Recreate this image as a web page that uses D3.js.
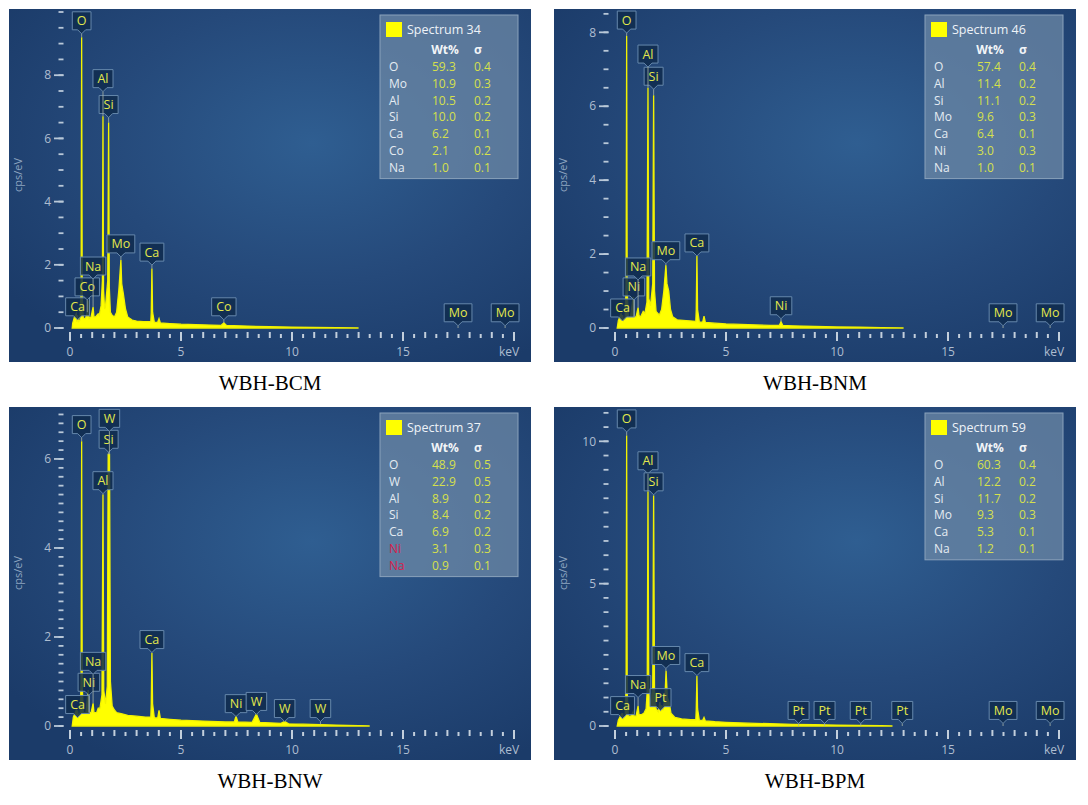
<!DOCTYPE html>
<html>
<head>
<meta charset="utf-8">
<script src="https://cdn.jsdelivr.net/npm/d3@7"></script>
<style>
body { margin: 0; background: #fff; }
svg { display: block; font-family: "Open Sans", "Noto Sans", sans-serif; }
</style>
</head>
<body>
<svg id="chart" width="1088" height="805"></svg>
<script>
// sample names and spectrum numbers
const captions = ["WBH-BCM", "WBH-BNM", "WBH-BNW", "WBH-BPM"]
const spectrumNo = [34, 46, 37, 59]

// y axis (cps/eV) for each panel
const yMax = [10, 8.55, 7.1, 11.1]
const yMajor = [[0, 2, 4, 6, 8], [0, 2, 4, 6, 8], [0, 2, 4, 6], [0, 5, 10]]
const yMinorStep = [0.5, 0.5, 0.2, 0.5]
const xTicks = [0, 5, 10, 15]

// quantification tables
const legendEl = [
  ["O", "Mo", "Al", "Si", "Ca", "Co", "Na"],
  ["O", "Al", "Si", "Mo", "Ca", "Ni", "Na"],
  ["O", "W", "Al", "Si", "Ca", "Ni", "Na"],
  ["O", "Al", "Si", "Mo", "Ca", "Na"]
]
const legendWt = [
  ["59.3", "10.9", "10.5", "10.0", "6.2", "2.1", "1.0"],
  ["57.4", "11.4", "11.1", "9.6", "6.4", "3.0", "1.0"],
  ["48.9", "22.9", "8.9", "8.4", "6.9", "3.1", "0.9"],
  ["60.3", "12.2", "11.7", "9.3", "5.3", "1.2"]
]
const legendSigma = [
  ["0.4", "0.3", "0.2", "0.2", "0.1", "0.2", "0.1"],
  ["0.4", "0.2", "0.2", "0.3", "0.1", "0.3", "0.1"],
  ["0.5", "0.5", "0.2", "0.2", "0.2", "0.3", "0.1"],
  ["0.4", "0.2", "0.2", "0.3", "0.1", "0.1"]
]
const flagged = [[], [], ["Ni", "Na"], []]

// peak labels: [element, keV, cps at the pointer]
const peakLabels = [
  [["Ca", 0.341, 0.26], ["Co", 0.776, 0.89], ["Na", 1.04, 1.55], ["O", 0.525, 9.31],
   ["Al", 1.486, 7.48], ["Si", 1.74, 6.66], ["Mo", 2.293, 2.25], ["Ca", 3.69, 1.99],
   ["Co", 6.93, 0.26], ["Mo", 17.48, 0.07], ["Mo", 19.6, 0.07]],
  [["Ca", 0.341, 0.19], ["Ni", 0.851, 0.76], ["Na", 1.04, 1.30], ["O", 0.525, 7.98],
   ["Al", 1.486, 7.06], ["Si", 1.74, 6.46], ["Mo", 2.293, 1.74], ["Ca", 3.69, 1.95],
   ["Ni", 7.478, 0.25], ["Mo", 17.48, 0.06], ["Mo", 19.6, 0.06]],
  [["Ca", 0.341, 0.19], ["Ni", 0.851, 0.69], ["Na", 1.04, 1.16], ["O", 0.525, 6.48],
   ["Al", 1.486, 5.22], ["Si", 1.74, 6.15], ["W", 1.775, 6.62], ["Ca", 3.69, 1.65],
   ["Ni", 7.478, 0.21], ["W", 8.397, 0.26], ["W", 9.67, 0.10], ["W", 11.28, 0.10]],
  [["Ca", 0.341, 0.26], ["Na", 1.04, 1.0], ["Pt", 2.05, 0.54], ["O", 0.525, 10.33],
   ["Al", 1.486, 8.86], ["Si", 1.74, 8.12], ["Mo", 2.293, 2.02], ["Ca", 3.69, 1.77],
   ["Pt", 8.27, 0.09], ["Pt", 9.44, 0.09], ["Pt", 11.07, 0.09], ["Pt", 12.94, 0.09],
   ["Mo", 17.48, 0.09], ["Mo", 19.6, 0.09]]
]

// spectra: [keV, cps/eV]
const spectra = [
  [[0.1,0],[0.12,0.15],[0.2,0.35],[0.28,0.45],[0.31,0.2],[0.341,0.4],[0.38,0.2],[0.45,0.25],[0.5,1.2],[0.525,9.2],[0.55,1.0],[0.6,0.3],[0.7,0.3],[0.776,0.5],[0.8,0.35],[0.82,0.87],[0.86,0.3],[0.95,0.35],[1.04,0.66],[1.08,0.35],[1.15,0.35],[1.27,0.45],[1.32,0.4],[1.4,0.7],[1.46,1.5],[1.486,6.7],[1.51,1.2],[1.56,0.6],[1.6,0.7],[1.7,1.5],[1.74,6.5],[1.77,1.3],[1.82,0.5],[1.9,0.4],[2.0,0.35],[2.1,0.5],[2.2,1.2],[2.293,2.15],[2.33,1.4],[2.4,1.1],[2.5,0.6],[2.6,0.35],[2.8,0.25],[3.0,0.22],[3.3,0.2],[3.64,0.2],[3.66,0.5],[3.69,1.88],[3.72,0.5],[3.8,0.18],[3.95,0.18],[4.01,0.3],[4.07,0.16],[4.5,0.14],[5.0,0.12],[6.0,0.1],[6.8,0.08],[6.93,0.16],[7.05,0.08],[8,0.06],[9,0.04],[10,0.03],[11,0.02],[12,0.01],[13,0]],
  [[0.1,0],[0.15,0.2],[0.28,0.4],[0.31,0.2],[0.341,0.35],[0.38,0.2],[0.46,0.3],[0.5,1.2],[0.525,7.9],[0.55,1.0],[0.6,0.3],[0.7,0.3],[0.82,0.84],[0.86,0.3],[0.95,0.3],[1.04,0.55],[1.08,0.34],[1.15,0.3],[1.27,0.45],[1.35,0.4],[1.44,0.7],[1.486,6.5],[1.52,0.8],[1.6,0.6],[1.7,1.2],[1.74,6.3],[1.78,1.0],[1.85,0.45],[2.0,0.35],[2.1,0.5],[2.2,1.0],[2.293,1.7],[2.34,1.2],[2.42,1.0],[2.5,0.5],[2.6,0.3],[2.8,0.22],[3.2,0.2],[3.64,0.18],[3.66,0.5],[3.69,1.96],[3.72,0.5],[3.8,0.16],[3.95,0.16],[4.01,0.32],[4.07,0.15],[4.5,0.13],[5,0.11],[6,0.09],[7,0.07],[7.4,0.07],[7.478,0.17],[7.56,0.07],[8,0.06],[9,0.04],[10,0.03],[11,0.02],[12,0.01],[13,0]],
  [[0.1,0],[0.15,0.2],[0.28,0.35],[0.31,0.2],[0.341,0.35],[0.38,0.2],[0.46,0.3],[0.5,1.0],[0.525,6.4],[0.55,0.9],[0.6,0.3],[0.72,0.3],[0.82,0.81],[0.86,0.3],[0.95,0.3],[1.04,0.51],[1.08,0.3],[1.2,0.3],[1.27,0.4],[1.35,0.4],[1.44,0.7],[1.486,5.2],[1.52,0.8],[1.6,0.5],[1.68,0.9],[1.72,6.1],[1.78,6.1],[1.82,1.0],[1.9,0.45],[2.0,0.36],[2.1,0.3],[2.3,0.28],[2.6,0.24],[3.0,0.22],[3.4,0.2],[3.64,0.2],[3.66,0.5],[3.69,1.64],[3.72,0.5],[3.8,0.18],[3.95,0.18],[4.01,0.35],[4.07,0.17],[4.5,0.15],[5,0.13],[6,0.11],[7,0.09],[7.4,0.09],[7.478,0.22],[7.56,0.09],[8.2,0.08],[8.397,0.27],[8.55,0.08],[9.5,0.06],[9.67,0.1],[9.85,0.05],[10.5,0.04],[11.28,0.03],[12,0.02],[13,0.01],[13.5,0]],
  [[0.1,0],[0.15,0.2],[0.28,0.4],[0.31,0.25],[0.341,0.45],[0.38,0.25],[0.46,0.35],[0.5,1.5],[0.525,10.2],[0.55,1.2],[0.6,0.35],[0.72,0.35],[0.82,0.5],[0.86,0.35],[0.95,0.35],[1.04,0.71],[1.08,0.4],[1.2,0.4],[1.3,0.45],[1.4,0.6],[1.45,1.2],[1.486,8.25],[1.52,1.2],[1.6,0.7],[1.7,1.4],[1.74,8.1],[1.78,1.2],[1.85,0.6],[1.95,0.5],[2.02,0.84],[2.06,0.5],[2.1,0.73],[2.16,0.55],[2.25,1.0],[2.3,1.94],[2.36,1.0],[2.45,0.8],[2.52,0.45],[2.7,0.3],[3,0.25],[3.4,0.22],[3.64,0.22],[3.66,0.6],[3.69,1.76],[3.72,0.6],[3.8,0.2],[3.95,0.2],[4.01,0.3],[4.07,0.18],[4.5,0.15],[5,0.13],[6,0.1],[7,0.08],[8,0.06],[9,0.05],[10,0.03],[11,0.02],[12,0.01],[12.5,0]]
]

const svg = d3.select("#chart")
const W = 522, H = 353
const panelX = [9, 554, 9, 554]
const panelY = [9, 9, 407, 407]

const defs = svg.append("defs")
const grad = defs.append("radialGradient").attr("id", "bg")
  .attr("cx", "58%").attr("cy", "38%").attr("r", "72%")
grad.append("stop").attr("offset", "0%").attr("stop-color", "#2f5e91")
grad.append("stop").attr("offset", "55%").attr("stop-color", "#25497a")
grad.append("stop").attr("offset", "100%").attr("stop-color", "#1b3b69")

captions.forEach((cap, p) => {
  const g = svg.append("g").attr("transform", `translate(${panelX[p]},${panelY[p]})`)
  defs.append("clipPath").attr("id", `clip${p}`)
    .append("rect").attr("width", W).attr("height", H)

  g.append("rect").attr("width", W).attr("height", H).attr("fill", "url(#bg)")

  const x = d3.scaleLinear().domain([0, 20]).range([61, 505])
  const y = d3.scaleLinear().domain([0, yMax[p]]).range([319, 3])

  // y ticks
  const minor = d3.range(0, yMax[p] + 1e-9, yMinorStep[p])
  g.selectAll(".ymin").data(minor).join("line")
    .attr("x1", 49.5).attr("x2", 54.5)
    .attr("y1", d => y(d)).attr("y2", d => y(d))
    .attr("stroke", "#b9c8d8").attr("stroke-width", 1.8)
  g.selectAll(".ymaj").data(yMajor[p]).join("line")
    .attr("x1", 45).attr("x2", 54.5)
    .attr("y1", d => y(d)).attr("y2", d => y(d))
    .attr("stroke", "#b9c8d8").attr("stroke-width", 1.8)
  g.selectAll(".ylab").data(yMajor[p]).join("text")
    .attr("x", 42).attr("y", d => y(d)).attr("dy", "0.35em")
    .attr("text-anchor", "end").attr("font-size", 12).attr("fill", "#aebdd0")
    .text(d => d)
  g.append("text").attr("transform", "translate(13,166) rotate(-90)")
    .attr("text-anchor", "middle").attr("font-size", 11).attr("fill", "#8ea5c0")
    .text("cps/eV")

  // x ticks
  g.selectAll(".xt").data(d3.range(0, 20.01, 0.5)).join("line")
    .attr("x1", d => x(d)).attr("x2", d => x(d))
    .attr("y1", d => d % 1 ? 325 : 323)
    .attr("y2", d => d % 5 === 0 ? 332 : 329)
    .attr("stroke", "#c3cfdc").attr("stroke-width", 2)
  g.selectAll(".xl").data(xTicks).join("text")
    .attr("x", d => x(d)).attr("y", 343).attr("dy", "0.35em")
    .attr("text-anchor", "middle").attr("font-size", 12).attr("fill", "#aebdd0")
    .text(d => d)
  g.append("text").attr("x", x(20) - 5).attr("y", 343).attr("dy", "0.35em")
    .attr("text-anchor", "middle").attr("font-size", 12).attr("fill", "#aebdd0")
    .text("keV")

  // spectrum
  const area = d3.area().x(d => x(d[0])).y0(y(0)).y1(d => y(d[1]))
  g.append("path").datum(spectra[p]).attr("d", area)
    .attr("clip-path", `url(#clip${p})`)
    .attr("fill", "#ffff00").attr("stroke", "#f2f200").attr("stroke-width", 1.3)

  // peak label boxes, then their leader lines on top
  const lab = g.append("g")
  const leaders = g.append("g")
  peakLabels[p].forEach(([el, e, v]) => {
    const px = x(e), tip = y(v), bottom = tip - 4, bh = 18
    const near = spectra[p].filter(d => Math.abs(d[0] - e) < 0.03)
    const top = near.length ? y(d3.max(near, d => d[1])) : y(0)
    const t = lab.append("text").attr("x", px).attr("y", bottom - bh / 2).attr("dy", "0.36em")
      .attr("text-anchor", "middle").attr("font-size", 12.5).attr("fill", "#e3e84c").text(el)
    const w = Math.max(17, t.node().getComputedTextLength() + 9)
    lab.insert("path", "text")
      .attr("d", `M${px - w / 2},${bottom - bh}h${w}v${bh}h${-(w / 2 - 4)}l-4,4l-4,-4h${-(w / 2 - 4)}z`)
      .attr("fill", "#0f2c4e").attr("fill-opacity", 0.85)
      .attr("stroke", "#6688ac").attr("stroke-width", 1)
    if (top > tip) {
      leaders.append("line").attr("x1", px).attr("x2", px).attr("y1", tip).attr("y2", top)
        .attr("stroke", "#a8b3a6").attr("stroke-width", 1).attr("opacity", 0.8)
    }
  })

  // quantification box
  const rows = legendEl[p].length
  const lg = g.append("g").attr("transform", "translate(371,6)")
  lg.append("rect").attr("width", 138).attr("height", 30 + rows * 16.8 + 16)
    .attr("fill", "#6f8aa7").attr("fill-opacity", 0.72)
    .attr("stroke", "#8aa2bb").attr("stroke-width", 1)
  lg.append("rect").attr("x", 6).attr("y", 7).attr("width", 16).attr("height", 15).attr("fill", "#ffff00")
  lg.append("text").attr("x", 27).attr("y", 14.5).attr("dy", "0.36em")
    .attr("font-size", 12.5).attr("fill", "#eef3f8").text(`Spectrum ${spectrumNo[p]}`)
  lg.append("text").attr("x", 65).attr("y", 35).attr("dy", "0.36em").attr("text-anchor", "middle")
    .attr("font-size", 12).attr("font-weight", "bold").attr("fill", "#f2f5f8").text("Wt%")
  lg.append("text").attr("x", 98).attr("y", 35).attr("dy", "0.36em").attr("text-anchor", "middle")
    .attr("font-size", 12).attr("font-weight", "bold").attr("fill", "#f2f5f8").text("σ")
  legendEl[p].forEach((el, i) => {
    const ry = 51.7 + i * 16.8
    lg.append("text").attr("x", 9).attr("y", ry).attr("dy", "0.36em").attr("font-size", 12)
      .attr("fill", flagged[p].includes(el) ? "#d8204c" : "#e4ebf2").text(el)
    lg.append("text").attr("x", 52).attr("y", ry).attr("dy", "0.36em").attr("font-size", 12)
      .attr("fill", "#d6e04c").text(legendWt[p][i])
    lg.append("text").attr("x", 94).attr("y", ry).attr("dy", "0.36em").attr("font-size", 12)
      .attr("fill", "#d6e04c").text(legendSigma[p][i])
  })

  // caption under the panel
  g.append("text").attr("x", W / 2).attr("y", 374).attr("dy", "0.35em")
    .attr("text-anchor", "middle").attr("font-family", "'Liberation Serif', serif")
    .attr("font-size", 21).attr("fill", "#000").text(cap)
})
</script>
</body>
</html>
